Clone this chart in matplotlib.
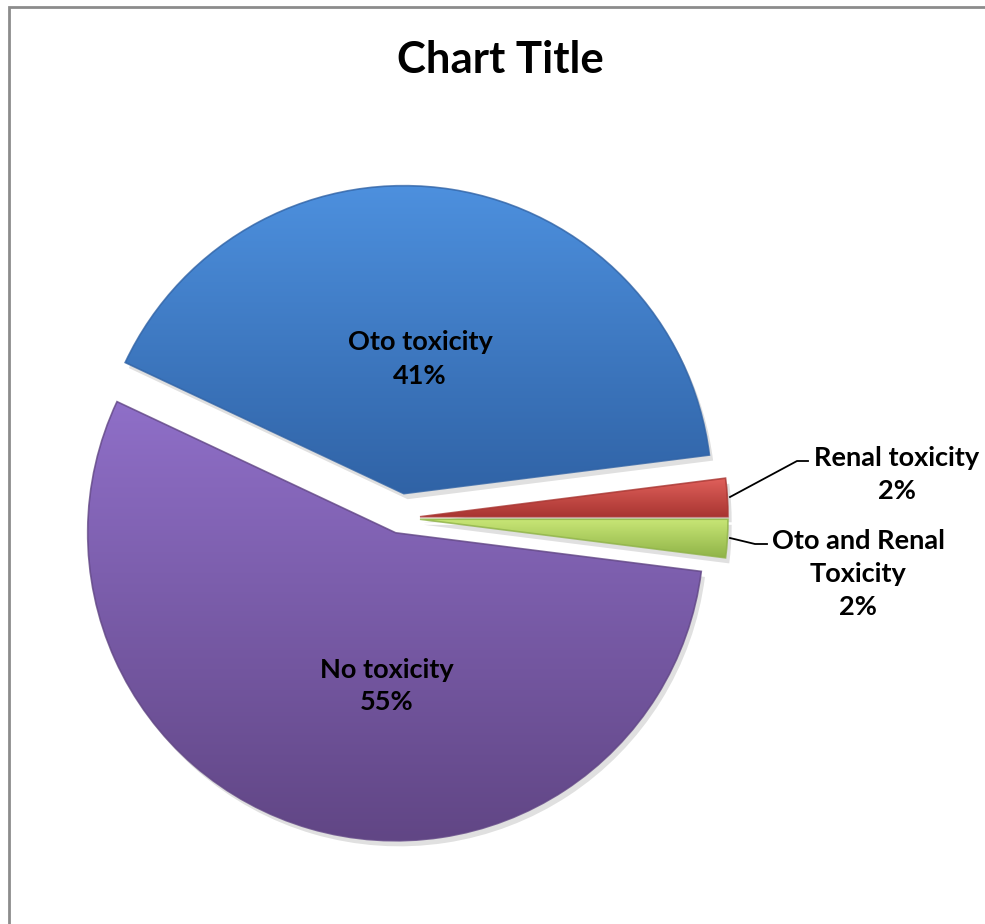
import numpy as np
import matplotlib.pyplot as plt
from matplotlib.colors import LinearSegmentedColormap
from matplotlib.patches import PathPatch
from matplotlib.transforms import Affine2D

plt.rcParams['font.family'] = ['Lato', 'DejaVu Sans']

# slice data, counter-clockwise from 3 o'clock
labels = ['Renal toxicity', 'Oto toxicity', 'No toxicity', 'Oto and Renal\nToxicity']
values = [2, 41, 55, 2]
explode = [0.065, 0.08, 0.05, 0.065]
top_colors = ['#e0605b', '#4d90de', '#8f6fc8', '#c8e676']
bottom_colors = ['#a83531', '#3063a6', '#614685', '#8fb347']

W, H = 985, 924
cx, cy, R = 400, 518, 308   # pie centre / radius in pixels


def px(x, y):
    # pixel position -> data coords (radius 1 pie)
    return (x - cx) / R, (cy - y) / R


fig = plt.figure(figsize=(W / 100, H / 100), dpi=100)
ax = fig.add_axes([0, 0, 1, 1])

wedges, _ = ax.pie(values, explode=explode, startangle=0, counterclock=True,
                   radius=1, center=(0, 0), frame=True,
                   wedgeprops=dict(linewidth=0))

grad = np.linspace(1, 0, 256).reshape(-1, 1)
for w, c0, c1 in zip(wedges, top_colors, bottom_colors):
    path = w.get_path()
    # soft drop shadow
    shadow = path.transformed(Affine2D().translate(0.012, -0.018))
    ax.add_patch(PathPatch(shadow, facecolor='#000000', alpha=0.12,
                           edgecolor='none', zorder=1))
    w.set_facecolor('none')
    w.set_zorder(3)
    ext = path.get_extents()
    cmap = LinearSegmentedColormap.from_list('g', [c1, c0])
    im = ax.imshow(grad, cmap=cmap, extent=[ext.x0, ext.x1, ext.y0, ext.y1],
                   aspect='auto', zorder=2, interpolation='bicubic')
    im.set_clip_path(w)
    # darker rim along the edge
    ax.add_patch(PathPatch(path, facecolor='none', edgecolor=c1,
                           linewidth=1.2, alpha=0.8, zorder=4))

ax.set_xlim((0 - cx) / R, (W - cx) / R)
ax.set_ylim((cy - H) / R, cy / R)
ax.set_aspect('auto')
ax.axis('off')

tkw = dict(ha='center', va='center', fontsize=19.5, fontweight='bold',
           color='black', linespacing=1.45, zorder=6)
pct = [f'{v / sum(values) * 100:.0f}%' for v in values]

ax.text(*px(420, 359), f'{labels[1]}\n{pct[1]}', **tkw)
ax.text(*px(387, 686), f'{labels[2]}\n{pct[2]}', **tkw)
ax.text(*px(897, 474), f'{labels[0]}\n{pct[0]}', **tkw)
ax.text(*px(858, 574), f'{labels[3]}\n{pct[3]}', **tkw)

# leader lines
lx, ly = zip(px(730, 497), px(797, 461), px(808, 461))
ax.plot(lx, ly, color='black', lw=1.3, zorder=5)
lx, ly = zip(px(730, 538), px(755, 544), px(767, 544))
ax.plot(lx, ly, color='black', lw=1.3, zorder=5)

ax.text(*px(500, 60), 'Chart Title', ha='center', va='center',
        fontsize=31.5, fontweight='bold', color='black')

# chart area border
fig.add_artist(plt.Rectangle((9 / W, -0.01), 1.1, (H - 6.5) / H + 0.01,
                             transform=fig.transFigure, fill=False,
                             edgecolor='#8c8c8c', linewidth=2))

fig.savefig('out.png', dpi=100)
